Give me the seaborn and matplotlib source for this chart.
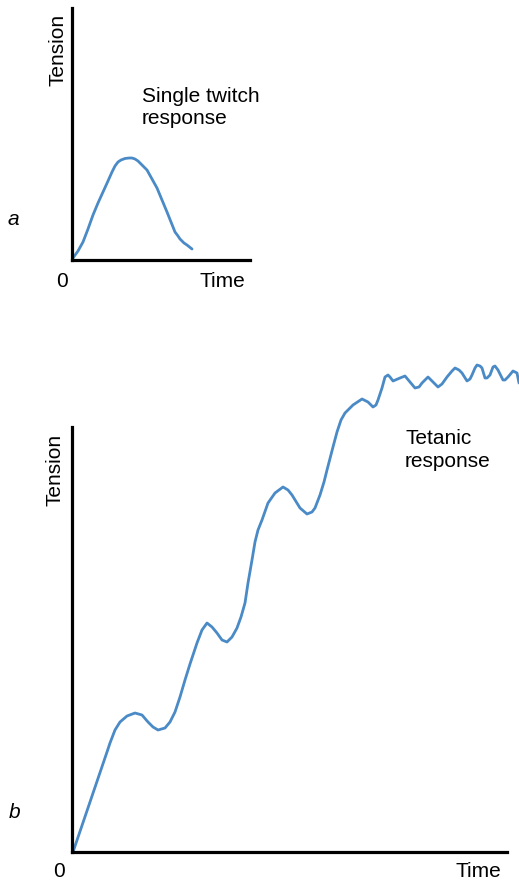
import matplotlib
matplotlib.use("Agg")
import matplotlib.pyplot as plt
import seaborn as sns

sns.set_style("white")
plt.rcParams["font.family"] = ["Liberation Sans", "DejaVu Sans"]

LINE_COLOR = "#4a8ac6"

# a: single twitch (time, tension) in arbitrary units
twitch_time = [1, 6, 11, 16, 21, 26, 31, 36, 40, 43, 46, 49, 53, 57, 60, 63, 66, 70, 75,
               80, 85, 90, 95, 99, 103, 106, 108, 112, 115, 120]
twitch_tension = [2, 9, 18, 31, 45, 57, 68, 79, 88, 94, 98, 100, 101.5, 102, 102, 101, 99,
                  95, 90, 81, 72, 60, 48, 38, 28, 24, 21, 17, 15, 11]

# b: tetanic response
tetanic_time = [1, 35, 38, 43, 48, 55, 63, 70, 76, 81, 86, 93, 98, 103, 108, 113, 118, 125,
                130, 135, 140, 145, 150, 155, 160, 165, 169, 173, 176, 180, 183, 186, 190,
                196, 203, 211, 216, 220, 228, 235, 240, 243, 248, 252, 255, 261, 265, 269,
                273, 281, 290, 296, 301, 304, 306, 308, 310, 313, 316, 318, 321, 328, 333,
                338, 343, 347, 350, 356, 361, 366, 370, 375, 380, 383, 387, 390, 395, 398,
                400, 403, 405, 408, 410, 413, 415, 418, 421, 423, 426, 431, 433, 436, 441,
                445, 447]
tetanic_tension = [0, 100, 109, 122, 130, 136, 139, 137, 130, 125, 122, 124, 130, 140, 155,
                   172, 188, 209, 222, 229, 225, 219, 212, 210, 215, 224, 235, 249, 269, 292,
                   310, 322, 332, 349, 359, 365, 362, 357, 344, 338, 340, 344, 357, 370, 382,
                   405, 420, 432, 439, 447, 453, 450, 445, 447, 452, 458, 464, 475, 477, 475,
                   471, 474, 476, 470, 464, 465, 469, 475, 470, 465, 468, 475, 481, 484, 482,
                   479, 471, 473, 477, 484, 487, 486, 484, 474, 474, 477, 485, 486, 482, 472,
                   472, 475, 481, 479, 469]

W, H = 519, 882
fig = plt.figure(figsize=(W / 100, H / 100), dpi=100)


def px_axes(left, top, right, bottom):
    return fig.add_axes([left / W, 1 - bottom / H, (right - left) / W, (bottom - top) / H])


def px_text(x, y, s, **kw):
    fig.text(x / W, 1 - y / H, s, fontsize=15, color="black", **kw)


def style(ax, xmax, ymax):
    ax.set_xlim(0, xmax)
    ax.set_ylim(0, ymax)
    ax.set_xticks([])
    ax.set_yticks([])
    ax.set_xlabel("")
    ax.set_ylabel("")
    sns.despine(ax=ax)
    for side in ["left", "bottom"]:
        ax.spines[side].set_linewidth(2.3)
        ax.spines[side].set_color("black")
    ax.patch.set_alpha(0)


ax_a = px_axes(72, 8, 250, 260)
sns.lineplot(x=twitch_time, y=twitch_tension, ax=ax_a, color=LINE_COLOR,
             linewidth=2.0, sort=False, estimator=None)
style(ax_a, 178, 252)

ax_b = px_axes(72, 427, 507, 852)
sns.lineplot(x=tetanic_time, y=tetanic_tension, ax=ax_b, color=LINE_COLOR,
             linewidth=2.0, sort=False, estimator=None)
style(ax_b, 435, 425)
for ln in ax_a.lines + ax_b.lines:
    ln.set_clip_on(False)
    ln.set_solid_joinstyle("round")
    ln.set_solid_capstyle("round")

# panel a labels
px_text(58, 50, "Tension", rotation=90, ha="center", va="center")
px_text(142, 102, "Single twitch", ha="left", va="baseline")
px_text(142, 124, "response", ha="left", va="baseline")
px_text(8, 225, "a", style="italic", ha="left", va="baseline")
px_text(62, 287, "0", ha="center", va="baseline")
px_text(200, 287, "Time", ha="left", va="baseline")

# panel b labels
px_text(55, 470, "Tension", rotation=90, ha="center", va="center")
px_text(405, 444, "Tetanic", ha="left", va="baseline")
px_text(405, 467, "response", ha="left", va="baseline")
px_text(9, 818, "b", style="italic", ha="left", va="baseline")
px_text(59, 877, "0", ha="center", va="baseline")
px_text(455, 877, "Time", ha="left", va="baseline")

fig.savefig("out.png", dpi=100)
